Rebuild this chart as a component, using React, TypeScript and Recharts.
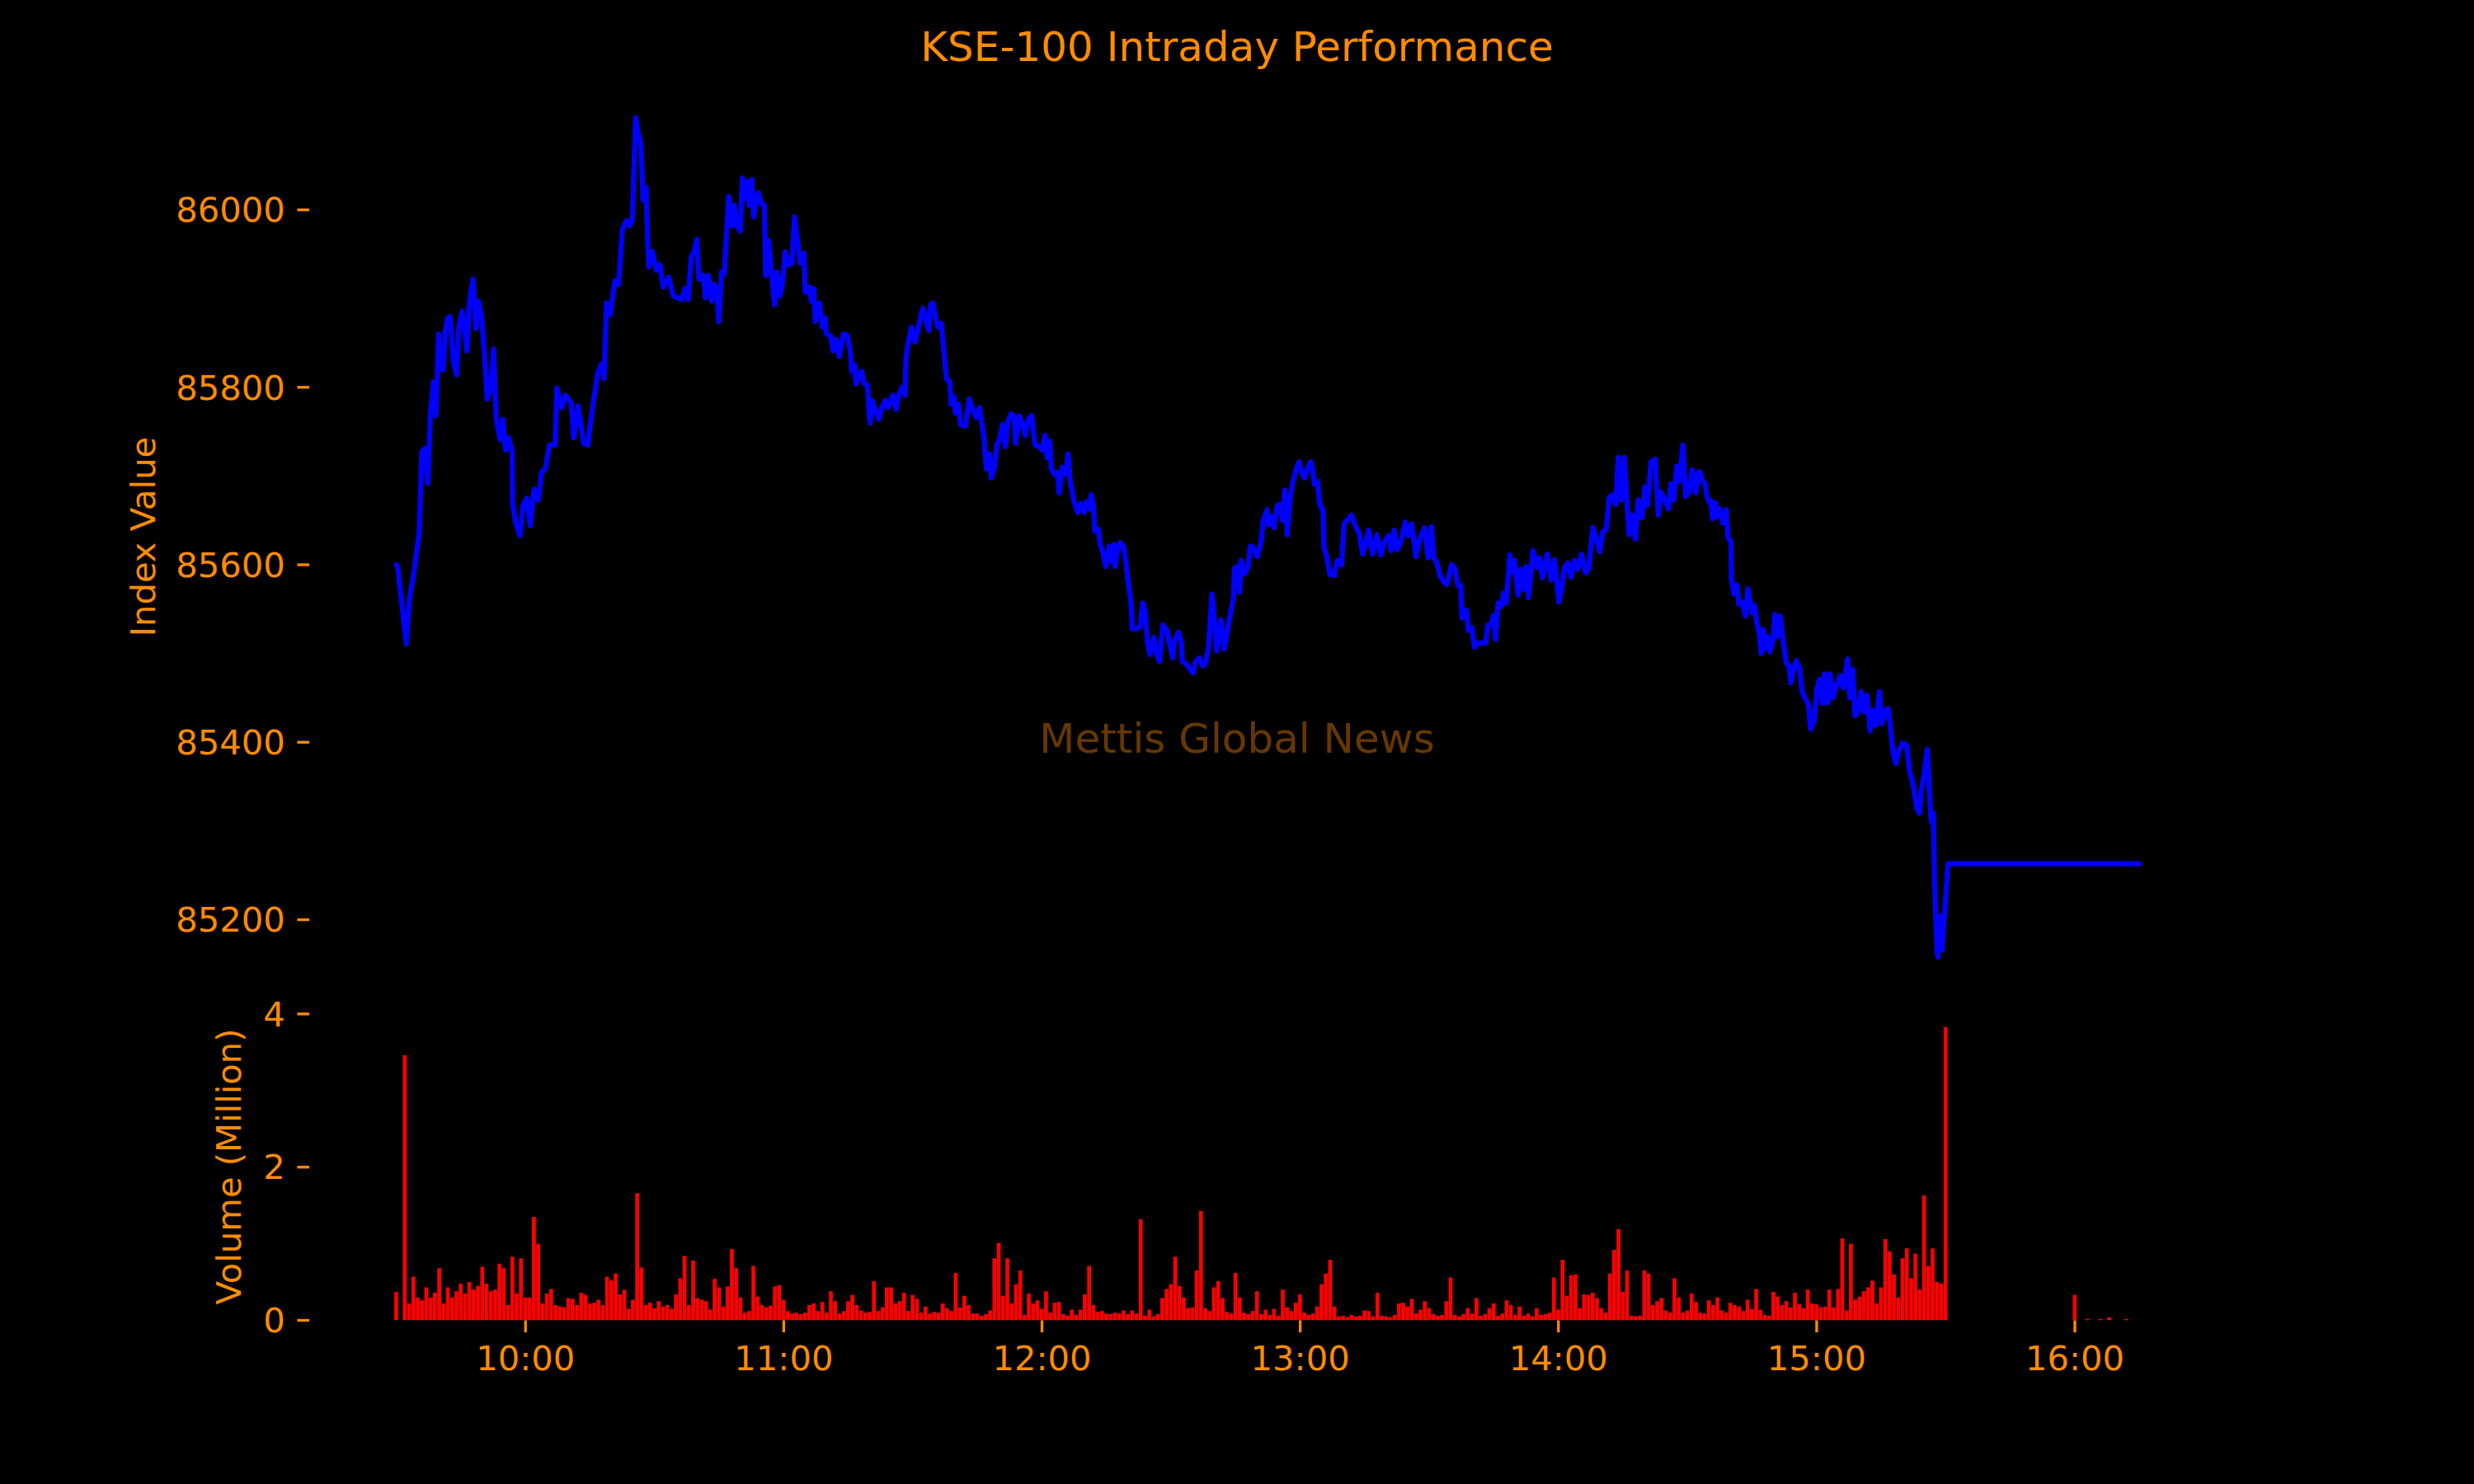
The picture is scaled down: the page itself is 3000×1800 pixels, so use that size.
import React from 'react';
import { LineChart, Line, BarChart, Bar, XAxis, YAxis } from 'recharts';

// ---------- data ----------
// price series: minutes after 09:30 and index value
const priceMinutes = [
  0, 0.3, 2.3, 3, 3.9, 4.6, 5.3, 5.9, 6.6, 7.3, 7.9, 8.6, 9.2, 9.8, 10.2, 10.9, 11.3, 11.9, 12.5, 13.2,
  14.0, 14.5, 15.3, 16.4, 17.0, 17.8, 18.5, 19.1, 19.8, 20.5, 21.1, 21.8, 22.6, 23.2, 24.1, 24.7, 25.4, 26.1, 26.9, 27.0,
  27.7, 28.7, 29.4, 30.3, 31.1, 32.0, 33.0, 33.7, 34.6, 35.6, 36.9, 37.3, 38.4, 39.3, 40.6, 41.2, 42.2, 43.5, 44.5, 45.2,
  46.0, 46.8, 47.6, 48.3, 48.8, 49.7, 50.2, 50.8, 51.6, 52.0, 52.5, 53.5, 54.1, 54.8, 55.6, 56.1, 56.8, 57.3, 58.0, 58.6,
  59.5, 60.4, 61.2, 62.0, 63.3, 64.3, 65.3, 66.3, 67.0, 67.8, 68.5, 69.2, 69.8, 70.3, 71.3, 71.8, 72.5, 73.3, 73.8, 74.5,
  74.9, 75.6, 76.2, 77.2, 78.0, 78.5, 79.1, 79.9, 80.4, 81.1, 81.7, 82.0, 82.6, 83.0, 83.7, 84.1, 84.8, 85.5, 85.8, 86.5,
  87.1, 87.9, 88.4, 89.1, 89.7, 90.3, 91.1, 91.9, 92.5, 93.2, 93.8, 94.7, 95.0, 96.0, 96.4, 97.0, 97.3, 98.3, 99.0, 99.6,
  99.9, 100.9, 101.4, 102.2, 102.9, 103.9, 104.8, 105.5, 105.8, 106.5, 106.8, 107.8, 108.1, 108.7, 109.5, 109.8, 110.1, 110.6, 111.4, 112.1,
  112.8, 113.6, 114.2, 115.3, 116.1, 116.7, 117.5, 118.2, 118.4, 118.8, 119.7, 120.5, 121.3, 122.3, 123.0, 123.7, 124.1, 124.6, 125.2, 125.8,
  126.6, 127.2, 127.8, 128.6, 128.9, 129.6, 129.9, 130.6, 131.1, 132.2, 133.1, 133.9, 134.7, 135.5, 136.0, 136.5, 137.1, 137.8, 138.2, 139.0,
  139.5, 140.2, 140.8, 141.5, 142.1, 142.8, 143.5, 143.9, 144.8, 145.4, 146.1, 146.8, 147.6, 148.4, 149.4, 150.1, 150.7, 151.2, 151.8, 152.2,
  152.9, 153.6, 154.0, 154.7, 155.5, 156.1, 156.5, 157.0, 157.6, 158.3, 159.0, 159.8, 160.3, 161.0, 161.4, 161.9, 162.3, 163.1, 163.5, 164.1,
  164.8, 165.6, 166.2, 166.8, 167.0, 167.5, 168.2, 168.9, 169.5, 170.1, 170.7, 171.0, 172.0, 172.8, 173.4, 174.0, 174.5, 175.1, 176.0, 176.7,
  177.3, 178.1, 179.1, 179.6, 180.4, 180.7, 181.7, 182.4, 182.6, 183.4, 184.2, 185.1, 185.7, 186.6, 187.4, 188.0, 188.7, 189.5, 190.1, 190.6,
  191.6, 192.3, 192.9, 193.6, 194.5, 194.7, 195.4, 195.9, 196.3, 197.1, 197.9, 198.4, 199.2, 200.0, 200.9, 201.4, 202.3, 202.7, 203.4, 203.9,
  204.7, 205.4, 205.9, 206.4, 207.0, 207.6, 208.2, 209.0, 209.7, 210.3, 211.0, 211.7, 212.5, 213.0, 213.3, 214.0, 214.6, 215.3, 215.5, 216.1,
  216.9, 217.9, 218.6, 219.6, 220.2, 220.9, 221.9, 222.9, 223.7, 224.5, 225.2, 225.9, 226.8, 227.8, 228.7, 229.5, 230.5, 231.1, 231.8, 232.5,
  233.4, 234.4, 235.1, 235.9, 236.9, 237.7, 238.9, 239.7, 240.5, 241.0, 241.7, 242.5, 243.3, 244.1, 245.2, 246.0, 246.6, 247.3, 247.6, 248.6,
  249.1, 249.9, 250.5, 251.3, 252.3, 253.1, 253.6, 254.4, 254.9, 255.4, 256.0, 256.7, 257.2, 257.9, 258.7, 259.2, 259.8, 260.6, 261.3, 262.0,
  262.5, 263.0, 263.7, 264.1, 265.0, 265.6, 266.3, 267.4, 268.3, 269.1, 270.1, 270.7, 271.4, 272.2, 272.9, 273.7, 274.5, 275.4, 276.3, 277.1,
  278.0, 278.9, 279.6, 280.3, 281.1, 281.8, 282.6, 283.3, 283.9, 284.6, 285.3, 285.9, 286.4, 287.2, 287.9, 288.5, 289.4, 290.1, 290.7, 291.5,
  292.5, 293.2, 293.8, 294.7, 295.6, 296.1, 296.8, 297.5, 298.1, 298.9, 299.6, 300.4, 301.1, 301.9, 302.6, 303.0, 303.4, 304.1, 304.4, 305.1,
  305.4, 305.8, 306.5, 306.8, 307.5, 308.2, 309.0, 309.4, 310.1, 310.2, 310.8, 311.5, 311.9, 312.6, 313.5, 314.0, 315.0, 315.6, 316.0, 316.7,
  317.1, 317.6, 318.1, 318.6, 319.1, 319.8, 320.3, 320.8, 321.5, 322.2, 322.9, 323.6, 324.0, 324.6, 325.3, 326.1, 326.6, 327.5, 328.1, 328.6,
  329.4, 330.1, 330.7, 331.3, 331.8, 332.5, 333.1, 333.8, 334.5, 335.5, 336.2, 337.2, 337.7, 338.4, 338.9, 339.6, 340.3, 341.0, 341.7, 342.4,
  343.1, 343.7, 344.6, 345.1, 345.8, 346.6, 347.2, 347.7, 348.4, 349.2, 350.0, 350.9, 351.6, 352.3, 353.3, 353.9, 354.3, 355.0, 355.7, 356.2,
  356.6, 357.1, 357.4, 358.0, 358.2, 358.6, 359.1, 359.8, 360.5, 405.0,
];
const priceValues = [
  85600, 85598, 85511, 85561, 85586, 85611, 85636, 85727, 85731, 85692, 85770, 85806, 85768, 85860, 85820, 85820, 85860, 85878, 85880, 85830,
  85814, 85868, 85886, 85841, 85897, 85922, 85866, 85897, 85880, 85835, 85787, 85797, 85843, 85764, 85741, 85764, 85729, 85743, 85727, 85669,
  85648, 85633, 85667, 85675, 85644, 85685, 85673, 85704, 85708, 85735, 85735, 85799, 85777, 85791, 85783, 85743, 85779, 85737, 85735, 85764,
  85791, 85816, 85826, 85810, 85895, 85882, 85901, 85920, 85916, 85942, 85978, 85988, 85982, 85988, 86104, 86088, 86075, 86011, 86025, 85936,
  85953, 85932, 85938, 85913, 85924, 85903, 85901, 85899, 85911, 85899, 85947, 85953, 85967, 85922, 85926, 85901, 85926, 85897, 85916, 85909,
  85874, 85930, 85928, 86015, 85982, 86005, 85982, 85976, 86036, 86013, 86032, 86005, 86034, 85992, 86015, 86019, 86007, 86005, 85926, 85965,
  85930, 85893, 85930, 85903, 85916, 85953, 85938, 85940, 85992, 85965, 85940, 85951, 85907, 85913, 85897, 85911, 85874, 85895, 85868, 85878,
  85860, 85858, 85841, 85854, 85835, 85860, 85858, 85839, 85818, 85825, 85804, 85816, 85818, 85804, 85802, 85773, 85760, 85785, 85773, 85764,
  85777, 85785, 85777, 85791, 85775, 85791, 85800, 85791, 85833, 85847, 85868, 85851, 85868, 85889, 85876, 85864, 85893, 85895, 85881, 85868,
  85872, 85841, 85810, 85806, 85781, 85789, 85771, 85781, 85758, 85756, 85787, 85775, 85766, 85777, 85760, 85744, 85708, 85725, 85698, 85710,
  85735, 85742, 85758, 85733, 85762, 85770, 85768, 85737, 85768, 85760, 85746, 85764, 85768, 85735, 85733, 85729, 85746, 85721, 85739, 85708,
  85702, 85704, 85681, 85710, 85702, 85725, 85696, 85683, 85669, 85659, 85669, 85659, 85671, 85663, 85679, 85669, 85638, 85640, 85623, 85615,
  85598, 85621, 85603, 85623, 85598, 85615, 85625, 85621, 85603, 85578, 85557, 85528, 85528, 85530, 85557, 85547, 85513, 85499, 85518, 85499,
  85491, 85532, 85526, 85511, 85495, 85513, 85524, 85513, 85491, 85489, 85484, 85478, 85491, 85495, 85486, 85489, 85507, 85567, 85536, 85503,
  85538, 85505, 85520, 85540, 85563, 85596, 85598, 85569, 85605, 85590, 85598, 85621, 85619, 85609, 85625, 85650, 85662, 85645, 85654, 85642,
  85667, 85668, 85650, 85684, 85634, 85673, 85691, 85707, 85716, 85705, 85698, 85708, 85716, 85704, 85691, 85694, 85667, 85662, 85620, 85611,
  85589, 85588, 85605, 85600, 85646, 85650, 85656, 85643, 85636, 85612, 85625, 85639, 85612, 85634, 85611, 85625, 85633, 85616, 85639, 85617,
  85626, 85648, 85633, 85646, 85609, 85628, 85642, 85608, 85643, 85608, 85603, 85588, 85581, 85578, 85600, 85595, 85577, 85577, 85540, 85549,
  85526, 85529, 85507, 85512, 85512, 85512, 85532, 85533, 85543, 85516, 85557, 85553, 85568, 85557, 85611, 85592, 85605, 85566, 85595, 85572,
  85598, 85563, 85595, 85616, 85597, 85608, 85585, 85612, 85583, 85606, 85558, 85571, 85597, 85602, 85586, 85605, 85595, 85612, 85591, 85597,
  85642, 85628, 85615, 85637, 85640, 85676, 85679, 85668, 85721, 85673, 85721, 85673, 85634, 85656, 85629, 85673, 85653, 85688, 85667, 85716,
  85719, 85656, 85682, 85673, 85663, 85691, 85673, 85711, 85694, 85735, 85677, 85682, 85707, 85681, 85705, 85703, 85695, 85691, 85679, 85670,
  85672, 85652, 85670, 85654, 85663, 85647, 85662, 85631, 85625, 85585, 85567, 85577, 85556, 85558, 85542, 85573, 85546, 85554, 85538, 85521,
  85500, 85527, 85506, 85519, 85502, 85513, 85544, 85519, 85542, 85515, 85490, 85486, 85467, 85482, 85492, 85482, 85457, 85448, 85442, 85415,
  85424, 85461, 85471, 85444, 85477, 85444, 85477, 85450, 85463, 85475, 85461, 85494, 85450, 85482, 85430, 85434, 85457, 85434, 85453, 85413,
  85436, 85419, 85457, 85421, 85434, 85438, 85415, 85390, 85376, 85392, 85399, 85397, 85367, 85355, 85326, 85320, 85345, 85365, 85392, 85345,
  85311, 85320, 85241, 85162, 85158, 85204, 85166, 85212, 85263, 85263,
];

// volume (million shares), one value per minute from 09:30 to 15:30
const regularVolume = [
  0.37, 0, 3.46, 0.22, 0.57, 0.30, 0.26, 0.43, 0.30, 0.36,
  0.68, 0.22, 0.43, 0.30, 0.38, 0.48, 0.35, 0.50, 0.40, 0.45,
  0.70, 0.48, 0.38, 0.40, 0.74, 0.68, 0.20, 0.83, 0.35, 0.81,
  0.30, 0.30, 1.35, 1.00, 0.22, 0.35, 0.41, 0.20, 0.18, 0.17,
  0.29, 0.28, 0.20, 0.36, 0.33, 0.22, 0.23, 0.27, 0.20, 0.57,
  0.52, 0.61, 0.34, 0.40, 0.15, 0.27, 1.66, 0.69, 0.20, 0.23,
  0.16, 0.25, 0.18, 0.20, 0.15, 0.34, 0.55, 0.84, 0.20, 0.78,
  0.29, 0.27, 0.25, 0.14, 0.54, 0.43, 0.18, 0.44, 0.93, 0.68,
  0.30, 0.10, 0.12, 0.71, 0.31, 0.20, 0.17, 0.19, 0.44, 0.46,
  0.27, 0.12, 0.09, 0.10, 0.08, 0.10, 0.20, 0.22, 0.12, 0.24,
  0.10, 0.38, 0.25, 0.09, 0.12, 0.25, 0.33, 0.20, 0.13, 0.10,
  0.11, 0.51, 0.12, 0.17, 0.43, 0.43, 0.22, 0.25, 0.36, 0.12,
  0.33, 0.28, 0.10, 0.18, 0.09, 0.11, 0.10, 0.22, 0.16, 0.12,
  0.62, 0.17, 0.32, 0.20, 0.09, 0.09, 0.06, 0.08, 0.13, 0.81,
  1.01, 0.32, 0.81, 0.22, 0.47, 0.65, 0.07, 0.35, 0.22, 0.26,
  0.15, 0.38, 0.10, 0.23, 0.24, 0.08, 0.06, 0.14, 0.07, 0.14,
  0.34, 0.71, 0.20, 0.11, 0.12, 0.09, 0.08, 0.10, 0.09, 0.13,
  0.08, 0.13, 0.09, 1.32, 0.06, 0.14, 0.05, 0.08, 0.29, 0.41,
  0.47, 0.83, 0.45, 0.30, 0.16, 0.17, 0.65, 1.43, 0.16, 0.12,
  0.43, 0.51, 0.29, 0.11, 0.09, 0.62, 0.30, 0.10, 0.08, 0.12,
  0.38, 0.08, 0.14, 0.07, 0.15, 0.06, 0.40, 0.17, 0.12, 0.23,
  0.34, 0.10, 0.07, 0.09, 0.18, 0.47, 0.61, 0.79, 0.18, 0.05,
  0.06, 0.04, 0.07, 0.05, 0.06, 0.13, 0.12, 0.05, 0.36, 0.06,
  0.05, 0.04, 0.07, 0.22, 0.23, 0.18, 0.28, 0.09, 0.14, 0.25,
  0.16, 0.08, 0.06, 0.07, 0.25, 0.56, 0.07, 0.05, 0.08, 0.16,
  0.09, 0.29, 0.06, 0.08, 0.16, 0.22, 0.06, 0.09, 0.26, 0.20,
  0.07, 0.18, 0.06, 0.09, 0.05, 0.16, 0.07, 0.08, 0.10, 0.56,
  0.14, 0.79, 0.32, 0.59, 0.60, 0.16, 0.34, 0.33, 0.36, 0.29,
  0.16, 0.10, 0.61, 0.92, 1.19, 0.37, 0.65, 0.06, 0.05, 0.06,
  0.65, 0.61, 0.20, 0.25, 0.29, 0.13, 0.10, 0.55, 0.30, 0.10,
  0.13, 0.35, 0.24, 0.10, 0.09, 0.26, 0.20, 0.30, 0.13, 0.10,
  0.23, 0.20, 0.18, 0.12, 0.27, 0.15, 0.41, 0.14, 0.07, 0.06,
  0.37, 0.31, 0.20, 0.25, 0.17, 0.36, 0.21, 0.16, 0.40, 0.22,
  0.21, 0.17, 0.18, 0.40, 0.17, 0.41, 1.07, 0.13, 1.00, 0.27,
  0.31, 0.38, 0.43, 0.52, 0.22, 0.43, 1.06, 0.90, 0.60, 0.30,
  0.81, 0.94, 0.55, 0.87, 0.40, 1.63, 0.71, 0.94, 0.50, 0.48,
  3.83,
];
const lateVolumeTimes = ['16:00', '16:03', '16:06', '16:08', '16:12'];
const lateVolumeValues = [0.33, 0.02, 0.02, 0.04, 0.02];

const xTickLabels = ['10:00', '11:00', '12:00', '13:00', '14:00', '15:00', '16:00'];
const priceTicks = [85200, 85400, 85600, 85800, 86000];
const volumeTicks = [0, 2, 4];

// ---------- helpers / tables ----------
const OPEN_MIN = 9 * 60 + 30;
const toOffset = (s: string) => {
  const [h, m] = s.split(':').map(Number);
  return h * 60 + m - OPEN_MIN;
};
const xTicks = xTickLabels.map(toOffset);
const fmtX = (v: number) => {
  const i = xTicks.indexOf(v);
  return i >= 0 ? xTickLabels[i] : '';
};

const priceData = priceMinutes.map((t, i) => ({ t, price: priceValues[i] }));
const volumeData = [
  ...regularVolume.map((vol, i) => ({ t: i, vol })),
  ...lateVolumeTimes.map((s, i) => ({ t: toOffset(s), vol: lateVolumeValues[i] })),
];

const ORANGE = '#ff8c00';
const FONT = "'DejaVu Sans', sans-serif";
const X_DOMAIN: [number, number] = [-20.25, 425.25];
const TICK_FONT = 41.7;

const tickStyle = { fill: ORANGE, fontSize: TICK_FONT, fontFamily: FONT };
const tickLineStyle = { stroke: ORANGE, strokeWidth: 3.33 };

export default function App() {
  return (
    <div
      style={{
        position: 'absolute',
        left: 0,
        top: 0,
        width: 3000,
        height: 1800,
        background: '#000',
        overflow: 'hidden',
        fontFamily: FONT,
      }}
    >
      {/* volume panel */}
      <div style={{ position: 'absolute', left: 0, top: 0 }}>
        <BarChart
          width={3000}
          height={1800}
          data={volumeData}
          margin={{ top: 1228, right: 300, bottom: 0, left: 0 }}
          barCategoryGap={0}
          barGap={0}
        >
          <XAxis
            dataKey="t"
            type="number"
            domain={X_DOMAIN}
            allowDataOverflow
            ticks={xTicks}
            interval={0}
            tickFormatter={fmtX}
            height={198.5}
            axisLine={false}
            stroke={ORANGE}
            tick={tickStyle}
            tickLine={tickLineStyle}
            tickSize={14.6}
            tickMargin={16}
          />
          <YAxis
            type="number"
            domain={[0, 4.02]}
            allowDataOverflow
            ticks={volumeTicks}
            interval={0}
            width={375}
            axisLine={false}
            stroke={ORANGE}
            tick={tickStyle}
            tickLine={tickLineStyle}
            tickSize={14.6}
            tickMargin={14.6}
          />
          <Bar dataKey="vol" fill="#ff0000" barSize={6} isAnimationActive={false} />
        </BarChart>
      </div>

      {/* price panel */}
      <div style={{ position: 'absolute', left: 0, top: 0 }}>
        <LineChart
          width={3000}
          height={1300}
          data={priceData}
          margin={{ top: 83.4, right: 300, bottom: 85, left: 0 }}
        >
          <XAxis dataKey="t" type="number" domain={X_DOMAIN} allowDataOverflow hide />
          <YAxis
            type="number"
            domain={[85107.6, 86159]}
            allowDataOverflow
            ticks={priceTicks}
            interval={0}
            width={375}
            axisLine={false}
            stroke={ORANGE}
            tick={tickStyle}
            tickLine={tickLineStyle}
            tickSize={14.6}
            tickMargin={14.6}
          />
          <Line
            type="linear"
            dataKey="price"
            stroke="#0000ff"
            strokeWidth={6.25}
            strokeLinejoin="round"
            strokeLinecap="round"
            dot={false}
            activeDot={false}
            isAnimationActive={false}
          />
        </LineChart>
      </div>

      {/* titles and labels */}
      <svg
        width={3000}
        height={1800}
        style={{ position: 'absolute', left: 0, top: 0, pointerEvents: 'none' }}
      >
        <text x={1500} y={74} textAnchor="middle" fill={ORANGE} fontSize={50} fontFamily={FONT}>
          KSE-100 Intraday Performance
        </text>
        <text
          x={1500}
          y={913}
          textAnchor="middle"
          fill="rgba(255,140,0,0.4)"
          fontSize={50}
          fontFamily={FONT}
        >
          Mettis Global News
        </text>
        <text
          transform="translate(188,651) rotate(-90)"
          textAnchor="middle"
          fill={ORANGE}
          fontSize={TICK_FONT}
          fontFamily={FONT}
        >
          Index Value
        </text>
        <text
          transform="translate(292,1415) rotate(-90)"
          textAnchor="middle"
          fill={ORANGE}
          fontSize={TICK_FONT}
          fontFamily={FONT}
        >
          Volume (Million)
        </text>
      </svg>
    </div>
  );
}
